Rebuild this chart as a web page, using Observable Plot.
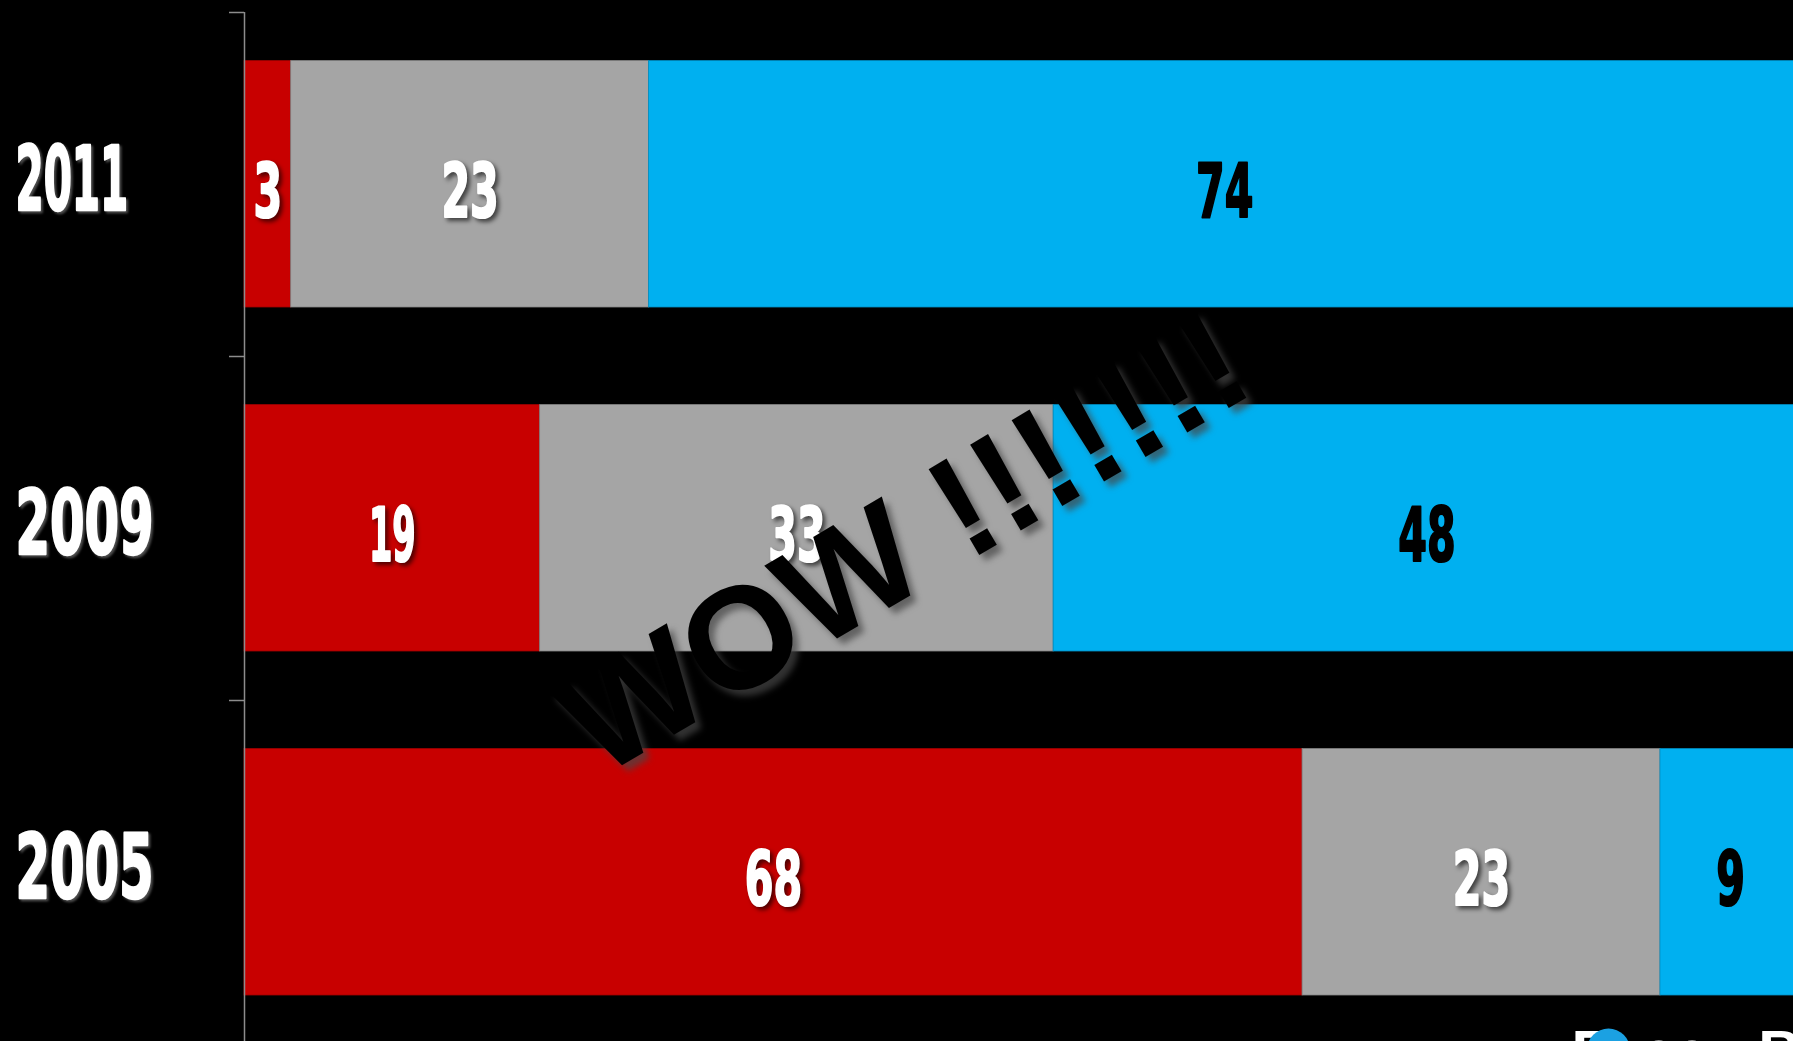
<!DOCTYPE html>
<html>
<head>
<meta charset="utf-8">
<script src="https://cdn.jsdelivr.net/npm/d3@7"></script>
<script src="https://cdn.jsdelivr.net/npm/@observablehq/plot@0.6"></script>
<style>
  html, body { margin: 0; padding: 0; background: #000; overflow: hidden; }
</style>
</head>
<body>
<div id="chart"></div>
<script>
// ---- data ----
const years = ["2011", "2009", "2005"];
const categories = ["Red", "Gray", "Blue"];
const categoryColors = ["#C80000", "#A5A5A5", "#00B0F0"];
const labelColors = ["#ffffff", "#ffffff", "#000000"];
const redValues = [3, 19, 68];
const grayValues = [23, 33, 23];
const blueValues = [74, 48, 9];
const wowText = "WOW !!!!!!!";
const wowAt = {x: 44, year: "2009"};
const logoText = "F\u00A0\u00A0ee\u00A0\u00A0\u00A0B";

const seriesValues = [redValues, grayValues, blueValues];
const rows = [];
years.forEach((year, i) => {
  categories.forEach((category, j) => {
    rows.push({year, category, value: seriesValues[j][i], color: categoryColors[j], label: labelColors[j]});
  });
});

const impactLike = "Impact, 'Liberation Sans Narrow', 'DejaVu Sans Condensed', 'DejaVu Sans', sans-serif";

const chart = Plot.plot({
  width: 1793,
  height: 1041,
  marginLeft: 244,
  marginRight: 0,
  marginTop: 12,
  marginBottom: 0,
  style: {background: "black", color: "white", overflow: "hidden"},
  x: {domain: [0, 100], range: [244, 1800], axis: null},
  y: {domain: years, range: [12, 1044], padding: 0, axis: null},
  color: {type: "identity"},
  marks: [
    Plot.barX(rows, Plot.stackX({
      y: "year", x: "value",
      fill: d => d.color,
      stroke: d => d3.color(d.color).darker(0.6).formatHex(),
      strokeWidth: 0.8,
      insetTop: 48.6, insetBottom: 49
    })),
    // axis line
    Plot.ruleX([0], {stroke: "#8c8c8c", strokeWidth: 1.5}),
    // ticks at category boundaries
    Plot.axisY({tickSize: 15, tickFormat: () => "", label: null, dy: -172, stroke: "#8c8c8c", strokeWidth: 1.5}),
    // year labels
    Plot.text(years, {
      y: d => d, text: d => d,
      frameAnchor: "left", dx: -229, dy: -2.6, textAnchor: "start",
      fill: "white", fontSize: 89, fontWeight: "bold", fontFamily: impactLike,
      stroke: "white", strokeWidth: 2.5, strokeLinejoin: "round",
      ariaDescription: "yearlabels"
    }),
    // value labels
    Plot.text(rows, Plot.stackX({
      y: "year", x: "value", text: d => String(d.value),
      fill: d => d.label, stroke: d => d.label, strokeWidth: 2.2, strokeLinejoin: "round",
      fontSize: 74, fontWeight: "bold", fontFamily: impactLike, dy: 9,
      ariaDescription: "valuelabels"
    })),
    // WOW annotation
    Plot.text([wowText], {
      x: () => wowAt.x, y: () => wowAt.year, text: d => d,
      rotate: -30.5, lineAnchor: "bottom", textAnchor: "middle", dy: 56,
      fill: "black", fontSize: 145, fontWeight: "bold",
      fontFamily: "'Liberation Sans', Arial, sans-serif",
      ariaDescription: "wow"
    }),
    // partial logo at bottom-right
    Plot.text([logoText], {
      text: d => d, frameAnchor: "bottom-right", textAnchor: "end", lineAnchor: "bottom",
      dx: 8, dy: 30, fill: "white", fontSize: 60, fontWeight: "bold",
      fontFamily: "'Liberation Sans', Arial, sans-serif"
    }),
    Plot.dot([0], {frameAnchor: "bottom-right", dx: -185, dy: 8.5, r: 21.5, fill: "#1ba1e2", stroke: "none"})
  ]
});

document.getElementById("chart").appendChild(chart);

// Impact-like condensed widths: "1" is narrow, other digits wider (em fractions)
function targetWidth(str, size) {
  let w = 0;
  for (const ch of str) w += (ch === "1" ? 0.245 : 0.388) * size;
  return w;
}
function condense(desc, size) {
  chart.querySelectorAll(`[aria-description="${desc}"] text`).forEach(t => {
    t.setAttribute("textLength", targetWidth(t.textContent, size).toFixed(1));
    t.setAttribute("lengthAdjust", "spacingAndGlyphs");
  });
}
function shadowTexts(desc, css) {
  chart.querySelectorAll(`[aria-description="${desc}"] text`).forEach(t => {
    const f = (t.getAttribute("fill") || "").toLowerCase();
    if (f !== "#000000" && f !== "black") t.style.filter = css;
  });
}
condense("yearlabels", 89);
condense("valuelabels", 74);
shadowTexts("yearlabels", "drop-shadow(2px 2px 1px rgba(140,140,140,0.55))");
shadowTexts("valuelabels", "drop-shadow(3px 3px 2px rgba(0,0,0,0.6))");
chart.querySelectorAll('[aria-description="wow"]').forEach(g => {
  g.style.filter = "drop-shadow(6px 6px 3px rgba(70,70,70,0.7))";
});
</script>
</body>
</html>
